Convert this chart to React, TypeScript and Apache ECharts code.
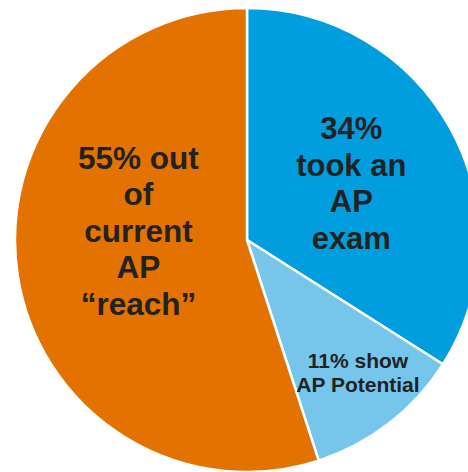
import React, { useEffect, useRef } from "react";
import * as echarts from "echarts";

const categories = ["34%\ntook an\nAP\nexam", "11% show\nAP Potential", "55% out\nof\ncurrent\nAP\n“reach”"];
const values = [34, 11, 55];
const colors = ["#009EDE", "#75C6EA", "#E37200"];

export default function App() {
  const ref = useRef<HTMLDivElement>(null);
  useEffect(() => {
    const chart = echarts.init(ref.current!, null, { renderer: "svg" });
    const labelStyles = [
      { fontSize: 31, lineHeight: 36.5, offset: [0, 1] },
      { fontSize: 21, lineHeight: 24, offset: [38, 38] },
      { fontSize: 31.5, lineHeight: 36.5, offset: [9, -28] },
    ];
    chart.setOption({
      animation: false,
      series: [
        {
          type: "pie",
          center: [247, 240],
          radius: [0, 232],
          startAngle: 90,
          clockwise: true,
          avoidLabelOverlap: false,
          itemStyle: { borderColor: "#ffffff", borderWidth: 2.5 },
          label: {
            show: true,
            position: "inside",
            formatter: "{b}",
            color: "#222222",
            fontFamily: "Liberation Sans, Arial, sans-serif",
            fontWeight: "bold",
            align: "center",
          },
          labelLine: { show: false },
          emphasis: { disabled: true },
          data: categories.map((name, i) => ({
            name,
            value: values[i],
            itemStyle: { color: colors[i] },
            label: labelStyles[i],
          })),
        },
      ],
    });
    return () => chart.dispose();
  }, []);
  return (
    <div
      ref={ref}
      style={{ position: "fixed", left: 0, top: 0, width: 468, height: 472, background: "#ffffff" }}
    />
  );
}
